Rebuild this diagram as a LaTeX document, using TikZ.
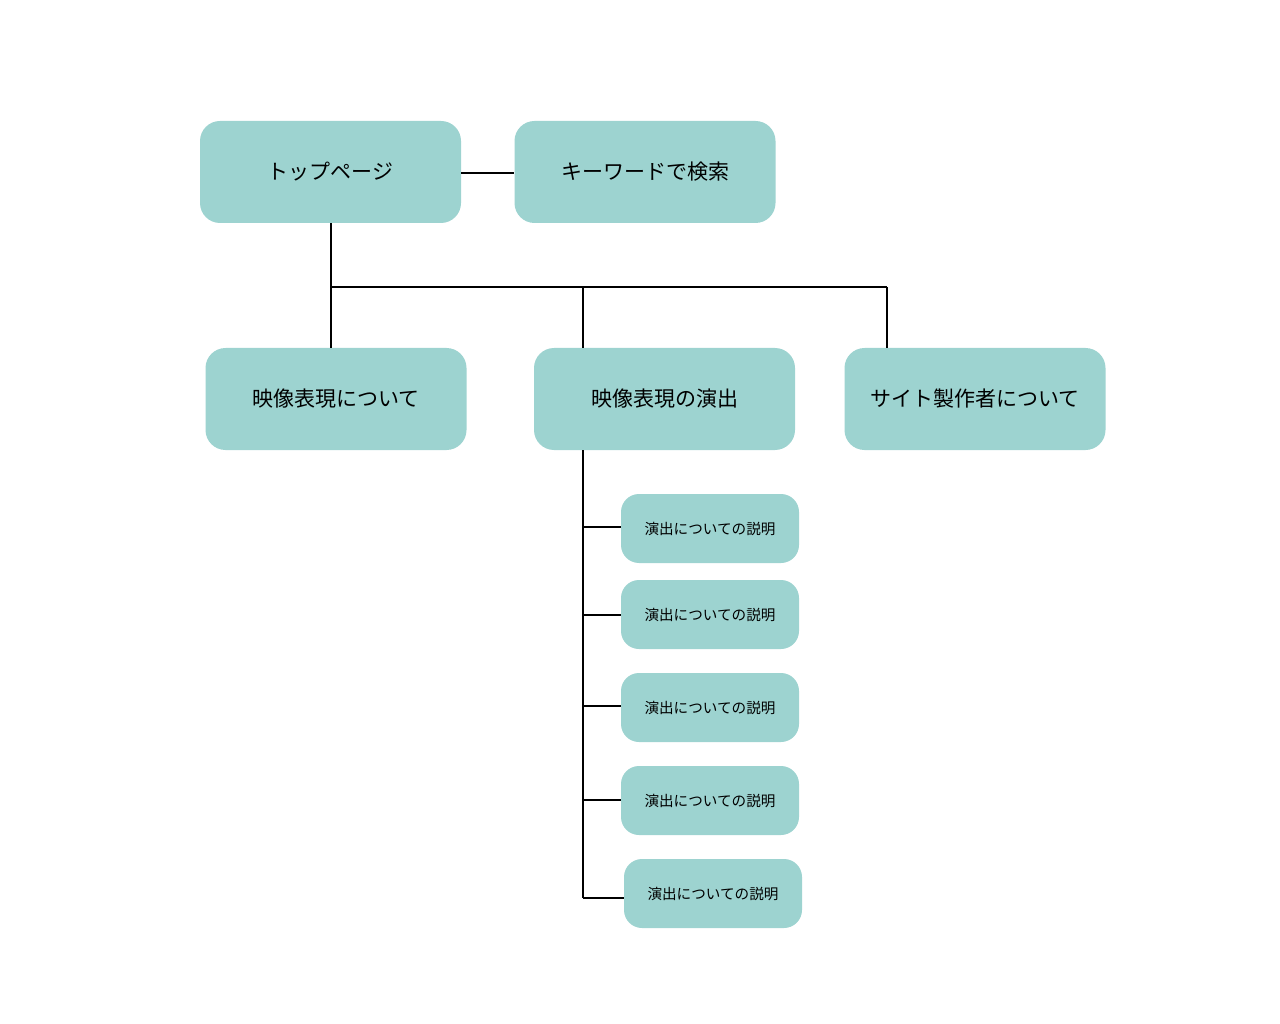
\documentclass[tikz,border=0pt]{standalone}
\usepackage{fontspec}
\newfontfamily\jp{Noto Sans CJK JP}
\definecolor{boxc}{HTML}{9DD3D0}
\begin{document}
\begin{tikzpicture}[x=1pt,y=-1pt,
  bigbox/.style={fill=boxc,draw=none,rounded corners=20pt,minimum width=261pt,minimum height=102pt,inner sep=0pt,font=\jp\fontsize{21}{25}\selectfont},
  smallbox/.style={fill=boxc,draw=none,rounded corners=18pt,minimum width=178pt,minimum height=69pt,inner sep=0pt,font=\jp\fontsize{14.6}{17}\selectfont},
  conn/.style={line width=2pt,black}]
\useasboundingbox (0,0) rectangle (1280,1024);
\node[bigbox] (top) at (330.5,172) {トップページ};
\node[bigbox] (kw) at (645,172) {キーワードで検索};
\node[bigbox] (a) at (336,399) {映像表現について};
\node[bigbox] (b) at (664.5,399) {映像表現の演出};
\node[bigbox] (c) at (975,399) {サイト製作者について};
\node[smallbox] (s1) at (710,528.5) {演出についての説明};
\node[smallbox] (s2) at (710,614.5) {演出についての説明};
\node[smallbox] (s3) at (710,707.5) {演出についての説明};
\node[smallbox] (s4) at (710,800.5) {演出についての説明};
\node[smallbox] (s5) at (713,893.5) {演出についての説明};
\coordinate (j1) at (331,287);
\coordinate (j2) at (583,287);
\coordinate (j3) at (887,287);
\coordinate (bt) at (583,450);
\coordinate (bend) at (583,898);
\draw[conn] (top.east |- 0,173) -- (kw.west |- 0,173);
\draw[conn] (j1 |- top.south) -- (j1) -- (j3);
\draw[conn] (j1) -- (j1 |- a.north);
\draw[conn] (j2) -- (j2 |- b.north);
\draw[conn] (j3) -- (j3 |- c.north);
\draw[conn] (bt) -- (bend);
\draw[conn] (583,527) -- (s1.west |- 0,527);
\draw[conn] (583,615) -- (s2.west |- 0,615);
\draw[conn] (583,706) -- (s3.west |- 0,706);
\draw[conn] (583,800) -- (s4.west |- 0,800);
\draw[conn] (bend) -- (s5.west |- bend);
\end{tikzpicture}
\end{document}
